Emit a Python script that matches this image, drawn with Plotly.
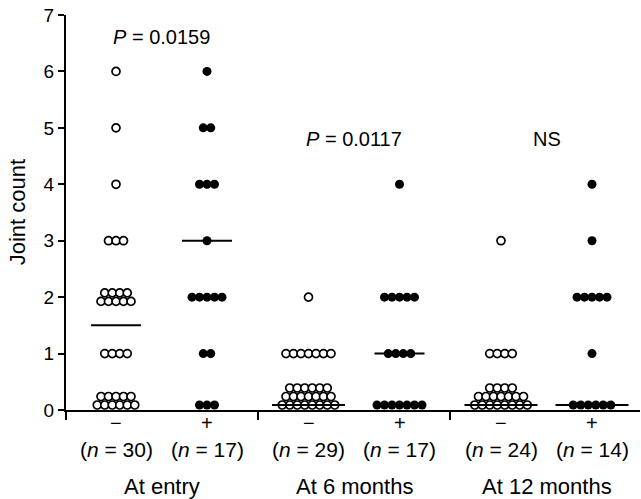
import plotly.graph_objects as go

# ---------------- data ----------------
GROUPS = ["At entry", "At 6 months", "At 12 months"]
SIGNS = ["\u2212", "+"]
N_VALUES = [30, 17, 29, 17, 24, 14]
P_LABELS = ["<i>P</i> = 0.0159", "<i>P</i> = 0.0117", "NS"]

# joint-count values and number of patients at each value, per column
entry_neg_values = [6, 5, 4, 3, 2, 1, 0]
entry_neg_counts = [1, 1, 1, 3, 9, 4, 11]
entry_pos_values = [6, 5, 4, 3, 2, 1, 0]
entry_pos_counts = [1, 2, 3, 1, 5, 2, 3]
m6_neg_values = [2, 1, 0]
m6_neg_counts = [1, 7, 21]
m6_pos_values = [4, 2, 1, 0]
m6_pos_counts = [1, 5, 4, 7]
m12_neg_values = [3, 1, 0]
m12_neg_counts = [1, 4, 19]
m12_pos_values = [4, 3, 2, 1, 0]
m12_pos_counts = [1, 1, 5, 1, 6]

MEDIANS = [1.5, 3, 0, 1, 0, 0]

COLUMNS = [
    (entry_neg_values, entry_neg_counts),
    (entry_pos_values, entry_pos_counts),
    (m6_neg_values, m6_neg_counts),
    (m6_pos_values, m6_pos_counts),
    (m12_neg_values, m12_neg_counts),
    (m12_pos_values, m12_pos_counts),
]

# ---------------- layout helpers ----------------
PX_X = 1 / 91.0          # x units per pixel
PX_Y = 7 / 395.0         # y units per pixel
GROUP_STEP = 192.5 * PX_X
DOT_DX = 7.5 * PX_X
ROW_DY = 8.5 * PX_Y
ZERO_BASE = 5 * PX_Y
# how stacked clusters are split into rows (bottom -> top)
ROW_SPLITS = {(0, 2): [5, 4], (0, 0): [6, 5], (2, 0): [8, 7, 6], (4, 0): [8, 7, 4]}


def col_center(i):
    return (i // 2) * GROUP_STEP + (i % 2)


xs_open, ys_open, xs_fill, ys_fill = [], [], [], []
for i, (vals, cnts) in enumerate(COLUMNS):
    cx = col_center(i)
    for v, c in zip(vals, cnts):
        rows = ROW_SPLITS.get((i, v), [c])
        nrows = len(rows)
        for r, k in enumerate(rows):
            if v == 0:
                y = ZERO_BASE + r * ROW_DY
            else:
                y = v + (r - (nrows - 1) / 2) * ROW_DY
            for j in range(k):
                x = cx + (j - (k - 1) / 2) * DOT_DX
                if i % 2 == 0:
                    xs_open.append(x); ys_open.append(y)
                else:
                    xs_fill.append(x); ys_fill.append(y)

fig = go.Figure()
fig.add_trace(go.Scatter(x=xs_open, y=ys_open, mode="markers",
                         marker=dict(symbol="circle", size=8, color="white",
                                     line=dict(color="black", width=1.7)),
                         hoverinfo="skip", cliponaxis=False))
fig.add_trace(go.Scatter(x=xs_fill, y=ys_fill, mode="markers",
                         marker=dict(symbol="circle", size=9, color="black",
                                     line=dict(color="black", width=0)),
                         hoverinfo="skip", cliponaxis=False))

# median lines
for i, m in enumerate(MEDIANS):
    cx = col_center(i)
    half = (36.5 if m == 0 else 25) * PX_X
    y = ZERO_BASE if m == 0 else m
    fig.add_shape(type="line", xref="x", yref="y", x0=cx - half, x1=cx + half,
                  y0=y, y1=y, line=dict(color="black", width=2), layer="above")

FONT = "Liberation Sans, Arial, sans-serif"

annotations = []
for i in range(6):
    cx = col_center(i)
    annotations.append(dict(x=cx, y=-0.034, xref="x", yref="paper", text=SIGNS[i % 2],
                            showarrow=False, font=dict(size=20, color="black", family=FONT),
                            xanchor="center", yanchor="middle"))
    annotations.append(dict(x=cx, y=-0.099, xref="x", yref="paper",
                            text="(<i>n</i> = %d)" % N_VALUES[i],
                            showarrow=False, font=dict(size=21, color="black", family=FONT),
                            xanchor="center", yanchor="middle"))
for g in range(3):
    cx = g * GROUP_STEP + 0.5
    annotations.append(dict(x=cx, y=-0.193, xref="x", yref="paper", text=GROUPS[g],
                            showarrow=False, font=dict(size=22, color="black", family=FONT),
                            xanchor="center", yanchor="middle"))
    annotations.append(dict(x=cx, y=(6.61 if g == 0 else 4.80), xref="x", yref="y",
                            text=P_LABELS[g], showarrow=False,
                            font=dict(size=20, color="black", family=FONT),
                            xanchor="center", yanchor="middle"))
annotations.append(dict(x=-0.084, y=0.5, xref="paper", yref="paper", text="Joint count",
                        textangle=-90, showarrow=False,
                        font=dict(size=22, color="black", family=FONT),
                        xanchor="center", yanchor="middle"))

x_min = -50 * PX_X
x_max = 524 * PX_X
x_ticks = [x_min, (1 + GROUP_STEP) / 2, (1 + 2 * GROUP_STEP + GROUP_STEP) / 2]

fig.update_layout(
    width=641, height=499,
    margin=dict(l=66, r=1, t=15, b=89),
    paper_bgcolor="white", plot_bgcolor="white",
    showlegend=False,
    annotations=annotations,
    font=dict(family=FONT, color="black"),
    xaxis=dict(range=[x_min, x_max], showgrid=False, zeroline=False,
               showline=True, linecolor="black", linewidth=2,
               ticks="outside", ticklen=8, tickwidth=1.5, tickcolor="black",
               tickvals=x_ticks, showticklabels=False, fixedrange=True),
    yaxis=dict(range=[0, 7], showgrid=False, zeroline=False,
               showline=True, linecolor="black", linewidth=2,
               ticks="outside", ticklen=6, tickwidth=1.5, tickcolor="black",
               tickvals=[0, 1, 2, 3, 4, 5, 6, 7],
               tickfont=dict(size=19, color="black", family=FONT),
               fixedrange=True),
)

fig.write_html("out.html")
